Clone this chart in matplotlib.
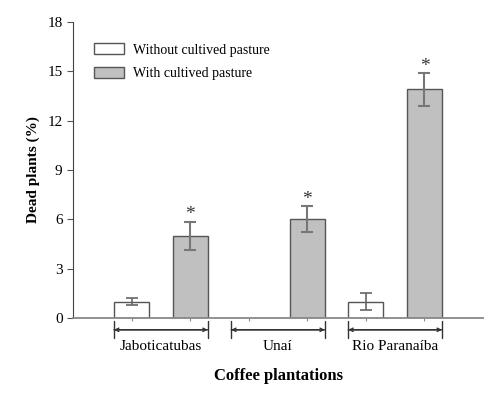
import matplotlib.pyplot as plt
import matplotlib.transforms as mtransforms
import numpy as np

plt.rcParams['font.family'] = ['Liberation Serif', 'DejaVu Serif']

sites = ['Jaboticatubas', 'Unaí', 'Rio Paranaíba']
without_vals = [1.0, 0.0, 1.0]
without_err = [0.2, 0.0, 0.5]
with_vals = [5.0, 6.0, 13.9]
with_err = [0.85, 0.8, 1.0]
yticks = [0, 3, 6, 9, 12, 15, 18]

fig = plt.figure(figsize=(5.0, 3.94), dpi=100)
ax = fig.add_axes([0.146, 0.193, 0.82, 0.751])

xw = np.arange(len(sites)) * 2
xc = xw + 1
edge = '#555555'

# bars without pasture (skip zero bar)
for x, v, e in zip(xw, without_vals, without_err):
    if v > 0:
        ax.bar(x, v, width=0.6, color='white', edgecolor=edge, linewidth=1.0,
               yerr=e, error_kw=dict(ecolor='#666666', capsize=4, elinewidth=1.2, capthick=1.2))
ax.bar(xc, with_vals, width=0.6, color='#c0c0c0', edgecolor=edge, linewidth=1.0,
       yerr=with_err, error_kw=dict(ecolor='#777777', capsize=4, elinewidth=1.5, capthick=1.5))

# asterisks
for x, v, e in zip(xc, with_vals, with_err):
    ax.text(x, v + e - 0.1, '*', ha='center', va='bottom', fontsize=14, color='#333333')

# legend boxes
ax.bar([-10], [0], color='white', edgecolor=edge, linewidth=1.0, label='Without cultived pasture')
ax.bar([-10], [0], color='#c0c0c0', edgecolor=edge, linewidth=1.0, label='With cultived pasture')
ax.legend(loc='upper left', bbox_to_anchor=(0.02, 0.97), frameon=False, fontsize=10,
          handlelength=2.2, handleheight=0.8, labelspacing=0.75, handletextpad=0.6)

ax.set_xlim(-1, 6)
ax.set_ylim(0, 18)
ax.set_yticks(yticks)
ax.set_xticks(list(xw) + list(xc))
ax.tick_params(axis='x', length=2, labelbottom=False, color='#888888')
ax.tick_params(axis='y', length=4, labelsize=11, color='#555555')
for s in ['top', 'right']:
    ax.spines[s].set_visible(False)
ax.spines['left'].set_color('#444444')
ax.spines['bottom'].set_color('#888888')
ax.spines['bottom'].set_linewidth(1.3)

# group brackets
trans = mtransforms.blended_transform_factory(ax.transData, ax.transAxes)
for x0, name in zip(xw, sites):
    for style in ['<->', '|-|']:
        ax.annotate('', xy=(x0 - 0.3, -0.04), xytext=(x0 + 1.3, -0.04), xycoords=trans,
                    textcoords=trans, annotation_clip=False,
                    arrowprops=dict(arrowstyle=style, color='#333333', lw=1.0,
                                    shrinkA=0, shrinkB=0, mutation_scale=6))
    ax.text(x0 + 0.5, -0.075, name, transform=trans, ha='center', va='top', fontsize=11)

ax.set_ylabel('Dead plants (%)', fontsize=11, fontweight='bold', labelpad=5)
ax.text(0.5, -0.17, 'Coffee plantations', transform=ax.transAxes, ha='center', va='top',
        fontsize=12, fontweight='bold')

fig.savefig('out.png', dpi=100)
